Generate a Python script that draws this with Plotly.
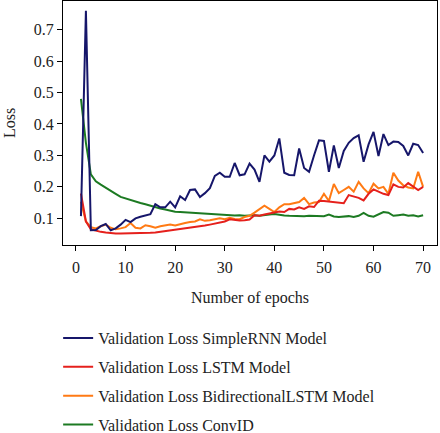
import plotly.graph_objects as go

epochs = list(range(1, 71))

simple_rnn = [0.107, 0.76, 0.062, 0.063, 0.075, 0.082, 0.062, 0.068, 0.08, 0.095,
              0.088, 0.1, 0.105, 0.11, 0.113, 0.145, 0.135, 0.135, 0.153, 0.135,
              0.17, 0.158, 0.19, 0.192, 0.168, 0.18, 0.196, 0.235, 0.245, 0.232,
              0.232, 0.276, 0.237, 0.24, 0.274, 0.255, 0.216, 0.30, 0.28, 0.30,
              0.354, 0.245, 0.238, 0.237, 0.322, 0.26, 0.248, 0.30, 0.348, 0.346,
              0.248, 0.332, 0.26, 0.314, 0.34, 0.355, 0.364, 0.28, 0.335, 0.375,
              0.298, 0.368, 0.333, 0.344, 0.343, 0.33, 0.30, 0.337, 0.333, 0.308]

lstm = [0.179, 0.09, 0.065, 0.06, 0.057, 0.055, 0.053, 0.052, 0.052, 0.052,
        0.052, 0.052, 0.053, 0.053, 0.054, 0.055, 0.057, 0.06, 0.062, 0.064,
        0.066, 0.068, 0.07, 0.072, 0.074, 0.077, 0.08, 0.083, 0.085, 0.09,
        0.097, 0.095, 0.093, 0.094, 0.096, 0.11, 0.108, 0.112, 0.115, 0.118,
        0.122, 0.12, 0.13, 0.128, 0.135, 0.13, 0.138, 0.136, 0.156, 0.155,
        0.153, 0.15, 0.149, 0.148, 0.174, 0.17, 0.165, 0.157, 0.178, 0.192,
        0.185, 0.178, 0.174, 0.208, 0.2, 0.198, 0.212, 0.2, 0.19, 0.2]

bilstm = [0.153, 0.09, 0.072, 0.068, 0.075, 0.08, 0.07, 0.065, 0.068, 0.072,
          0.085, 0.07, 0.068, 0.078, 0.075, 0.07, 0.075, 0.078, 0.08, 0.077,
          0.082, 0.085, 0.088, 0.09, 0.097, 0.092, 0.094, 0.098, 0.1, 0.097,
          0.102, 0.098, 0.097, 0.104, 0.108, 0.118, 0.13, 0.14, 0.13, 0.12,
          0.135, 0.145, 0.145, 0.148, 0.152, 0.165, 0.145, 0.15, 0.152, 0.178,
          0.155, 0.209, 0.18, 0.19, 0.2, 0.185, 0.216, 0.195, 0.18, 0.21,
          0.195, 0.2, 0.178, 0.245, 0.22, 0.205, 0.198, 0.195, 0.248, 0.2]

conv1d = [0.48, 0.34, 0.24, 0.218, 0.207, 0.198, 0.188, 0.178, 0.168, 0.163,
          0.157, 0.153, 0.149, 0.145, 0.14, 0.135, 0.131, 0.128, 0.124, 0.121,
          0.12, 0.119, 0.118, 0.117, 0.116, 0.115, 0.114, 0.112, 0.11, 0.111,
          0.11, 0.109, 0.11, 0.108, 0.109, 0.11, 0.108, 0.109, 0.112, 0.114,
          0.111, 0.109, 0.108, 0.107, 0.108, 0.107, 0.108, 0.107, 0.106, 0.107,
          0.112, 0.106, 0.104, 0.105, 0.107, 0.104, 0.108, 0.117, 0.108, 0.105,
          0.112, 0.12, 0.118, 0.108, 0.11, 0.112, 0.108, 0.11, 0.106, 0.11]

names = ["Validation Loss SimpleRNN Model", "Validation Loss LSTM Model",
         "Validation Loss BidirectionalLSTM Model", "Validation Loss ConvID"]
colors = ["#16166a", "#e5201c", "#ff7a14", "#1c7a22"]
series = [simple_rnn, lstm, bilstm, conv1d]

FONT = "Liberation Serif, Times New Roman, serif"

fig = go.Figure()
order = [3, 2, 1, 0]
for i in order:
    fig.add_trace(go.Scatter(x=epochs, y=series[i], mode="lines", name=names[i],
                             line=dict(color=colors[i], width=2),
                             legendgroup=str(i), legendrank=i + 1))

fig.update_layout(
    width=440, height=433,
    margin=dict(l=63, r=3, t=1, b=188, autoexpand=False),
    paper_bgcolor="white", plot_bgcolor="white",
    font=dict(family=FONT, size=16, color="#222"),
    showlegend=True,
    legend=dict(x=-0.013, xanchor="left", y=-0.312, yanchor="top",
                tracegroupgap=5, font=dict(size=16, family=FONT),
                bgcolor="rgba(0,0,0,0)"),
)
fig.update_xaxes(range=[-2.62, 72.8], tickvals=[0, 10, 20, 30, 40, 50, 60, 70],
                 showline=True, linecolor="black", linewidth=1.2, mirror=True,
                 ticks="outside", ticklen=5, tickcolor="black", showgrid=False,
                 zeroline=False, tickfont=dict(size=16), automargin=False,
                 ticklabelstandoff=3,
                 title=dict(text="Number of epochs", font=dict(size=16), standoff=16))
fig.update_yaxes(range=[0.0152, 0.791], tickvals=[0.1, 0.2, 0.3, 0.4, 0.5, 0.6, 0.7],
                 showline=True, linecolor="black", linewidth=1.2, mirror=True,
                 ticks="outside", ticklen=5, tickcolor="black", showgrid=False,
                 zeroline=False, tickfont=dict(size=16), automargin=False,
                 title=dict(text="Loss", font=dict(size=16), standoff=14))

fig.write_html("out.html", config={"displayModeBar": False},
               post_script="document.body.style.margin='0';document.body.style.overflow='hidden';")
